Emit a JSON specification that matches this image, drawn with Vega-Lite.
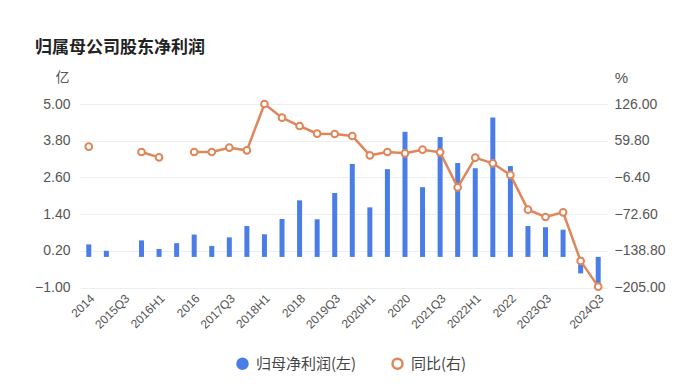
{
  "$schema": "https://vega.github.io/schema/vega-lite/v6.json",
  "width": 527,
  "height": 183.5,
  "autosize": "none",
  "padding": {"left": 80, "top": 104, "right": 93, "bottom": 104.5},
  "background": "#ffffff",
  "config": {"view": {"stroke": null}, "font": "Liberation Sans"},
  "title": {"text": "归属母公司股东净利润", "anchor": "start", "frame": "group", "dx": -45, "font": "Noto Sans CJK SC", "fontSize": 17, "fontWeight": "bold", "color": "#222222", "offset": 13},
  "data": {"values": [
    {"p": "2014", "v": 0.41, "r": 49},
    {"p": "2015H1", "v": 0.20, "r": null},
    {"p": "2015Q3", "v": null, "r": null},
    {"p": "2015", "v": 0.54, "r": 39.4},
    {"p": "2016H1", "v": 0.26, "r": 29.8},
    {"p": "2016Q3", "v": 0.45, "r": null},
    {"p": "2016", "v": 0.73, "r": 39.4},
    {"p": "2017H1", "v": 0.36, "r": 39.4},
    {"p": "2017Q3", "v": 0.64, "r": 47.2},
    {"p": "2017", "v": 1.01, "r": 42.4},
    {"p": "2018H1", "v": 0.74, "r": 126},
    {"p": "2018Q3", "v": 1.24, "r": 101.3},
    {"p": "2018", "v": 1.85, "r": 86.3},
    {"p": "2019H1", "v": 1.23, "r": 72.5},
    {"p": "2019Q3", "v": 2.09, "r": 71.9},
    {"p": "2019", "v": 3.04, "r": 68.3},
    {"p": "2020H1", "v": 1.62, "r": 33.4},
    {"p": "2020Q3", "v": 2.87, "r": 39.4},
    {"p": "2020", "v": 4.09, "r": 37},
    {"p": "2021H1", "v": 2.28, "r": 43.6},
    {"p": "2021Q3", "v": 3.92, "r": 38.8},
    {"p": "2021", "v": 3.07, "r": -24.3},
    {"p": "2022H1", "v": 2.90, "r": 29.2},
    {"p": "2022Q3", "v": 4.56, "r": 19},
    {"p": "2022", "v": 2.97, "r": -2},
    {"p": "2023H1", "v": 1.01, "r": -64.6},
    {"p": "2023Q3", "v": 0.97, "r": -77.8},
    {"p": "2023", "v": 0.89, "r": -69.4},
    {"p": "2024H1", "v": -0.54, "r": -157.2},
    {"p": "2024Q3", "v": -0.93, "r": -203.5}
  ]},
  "encoding": {
    "x": {"field": "p", "type": "nominal", "sort": null,
      "scale": {"paddingInner": 0, "paddingOuter": 0, "domain": ["2014","2015H1","2015Q3","2015","2016H1","2016Q3","2016","2017H1","2017Q3","2017","2018H1","2018Q3","2018","2019H1","2019Q3","2019","2020H1","2020Q3","2020","2021H1","2021Q3","2021","2022H1","2022Q3","2022","2023H1","2023Q3","2023","2024H1","2024Q3"]},
      "axis": {"title": null, "labelAngle": -45, "domain": false, "ticks": false, "labelPadding": 5, "labelFontSize": 12, "labelColor": "#555555",
        "labelExpr": "indexof(['2014','2015Q3','2016H1','2016','2017Q3','2018H1','2018','2019Q3','2020H1','2020','2021Q3','2022H1','2022','2023Q3','2024Q3'], datum.value) >= 0 ? datum.value : ''"}}
  },
  "layer": [
    {
      "mark": {"type": "bar", "width": 5, "strokeWidth": 0},
      "encoding": {
        "y": {"field": "v", "type": "quantitative", "scale": {"domain": [-1, 5], "nice": false, "zero": false},
          "axis": {"title": "亿", "titleAngle": 0, "titleX": -18, "titleY": -27, "titleAlign": "center", "titleBaseline": "middle", "titleFont": "Noto Sans CJK SC", "titleFontSize": 14, "titleFontWeight": "normal", "titleColor": "#555555",
            "values": [-1, 0.2, 1.4, 2.6, 3.8, 5], "format": ".2f", "grid": true, "gridColor": "#eeeeee", "domain": false, "ticks": false, "labelPadding": 10, "labelFontSize": 14, "labelColor": "#555555"}},
        "fill": {"datum": "归母净利润(左)", "type": "nominal",
          "scale": {"domain": ["归母净利润(左)", "同比(右)"], "range": ["#4a7ee6", "#ffffff"]},
          "legend": {"title": null, "orient": "none", "legendX": 155, "legendY": 252, "direction": "horizontal", "columns": 2, "columnPadding": 30,
            "symbolType": "circle", "symbolSize": 100, "symbolStrokeWidth": 2.5, "symbolOpacity": 1, "labelFont": "Noto Sans CJK SC", "labelFontSize": 15, "labelColor": "#444444", "labelOffset": 6}},
        "stroke": {"datum": "归母净利润(左)", "type": "nominal",
          "scale": {"domain": ["归母净利润(左)", "同比(右)"], "range": ["#4a7ee6", "#df865a"]},
          "legend": {"title": null, "orient": "none", "legendX": 155, "legendY": 252, "direction": "horizontal", "columns": 2, "columnPadding": 30,
            "symbolType": "circle", "symbolSize": 100, "symbolStrokeWidth": 2.5, "symbolOpacity": 1, "labelFont": "Noto Sans CJK SC", "labelFontSize": 15, "labelColor": "#444444", "labelOffset": 6}}
      }
    },
    {
      "layer": [
        {
          "mark": {"type": "line", "strokeWidth": 2.5, "color": "#df865a"},
          "encoding": {}
        },
        {
          "mark": {"type": "point", "strokeWidth": 2, "size": 45, "opacity": 1},
          "encoding": {
            "fill": {"datum": "同比(右)", "type": "nominal"},
            "stroke": {"datum": "同比(右)", "type": "nominal"}
          }
        }
      ],
      "encoding": {
        "y": {"field": "r", "type": "quantitative", "scale": {"domain": [-205, 126], "nice": false, "zero": false},
          "axis": {"orient": "right", "title": "%", "titleAngle": 0, "titleX": 14, "titleY": -27, "titleAlign": "center", "titleBaseline": "middle", "titleFontSize": 15, "titleFontWeight": "normal", "titleColor": "#555555",
            "values": [-205, -138.8, -72.6, -6.4, 59.8, 126], "format": ".2f", "grid": false, "domain": false, "ticks": false, "labelPadding": 7, "labelFontSize": 14, "labelColor": "#555555"}}
      }
    }
  ],
  "resolve": {"scale": {"y": "independent"}}
}
